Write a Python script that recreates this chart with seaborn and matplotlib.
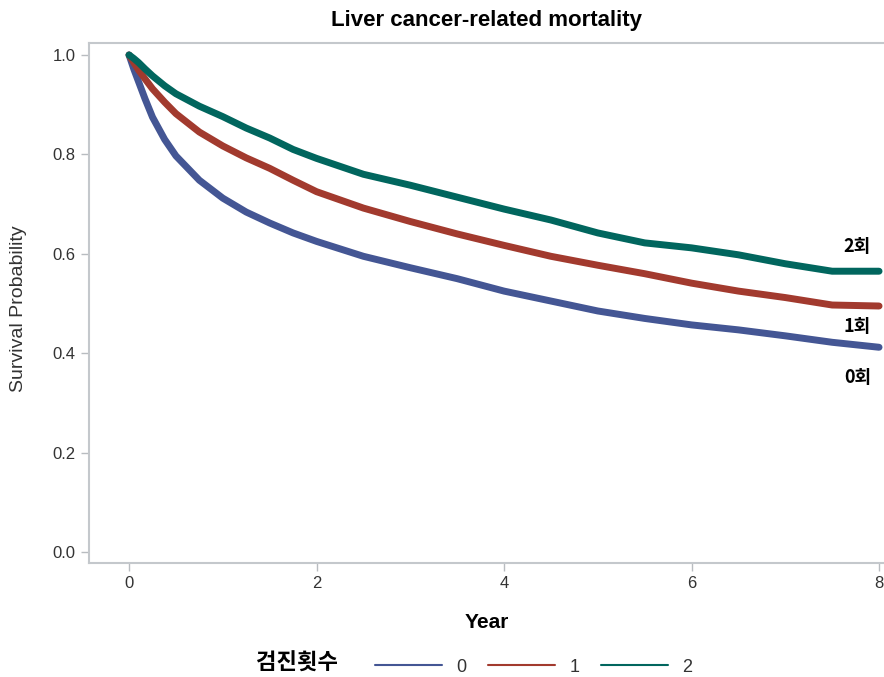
import numpy as np
import pandas as pd
import seaborn as sns
import matplotlib.pyplot as plt
from matplotlib.lines import Line2D

# Kaplan-Meier curves (approximate)
years = [0, 0.05, 0.1, 0.17, 0.25, 0.38, 0.5, 0.75, 1, 1.25, 1.5, 1.75, 2,
         2.5, 3, 3.5, 4, 4.5, 5, 5.5, 6, 6.5, 7, 7.5, 8]
surv_0 = [1.0, 0.972, 0.947, 0.912, 0.875, 0.83, 0.797, 0.748, 0.712, 0.684, 0.662, 0.642, 0.625,
          0.595, 0.572, 0.55, 0.525, 0.505, 0.485, 0.47, 0.457, 0.447, 0.435, 0.422, 0.412]
surv_1 = [1.0, 0.985, 0.97, 0.952, 0.932, 0.905, 0.882, 0.845, 0.817, 0.793, 0.772, 0.748, 0.725,
          0.692, 0.665, 0.64, 0.617, 0.595, 0.577, 0.56, 0.541, 0.525, 0.512, 0.497, 0.495]
surv_2 = [1.0, 0.993, 0.985, 0.972, 0.958, 0.938, 0.922, 0.897, 0.876, 0.853, 0.833, 0.81, 0.792,
          0.76, 0.738, 0.714, 0.69, 0.668, 0.642, 0.622, 0.612, 0.598, 0.58, 0.565, 0.565]
groups = ["0", "1", "2"]
end_labels = ["0회", "1회", "2회"]
label_y = [0.352, 0.453, 0.614]

colors = {"0": "#445694", "1": "#A23A2E", "2": "#01665E"}

df = pd.concat([
    pd.DataFrame({"Year": years, "Survival": s, "group": g})
    for g, s in zip(groups, [surv_0, surv_1, surv_2])
])

sns.set_style("white")
plt.rcParams["font.family"] = ["Liberation Sans", "Noto Sans CJK KR", "DejaVu Sans"]

fig = plt.figure(figsize=(8.84, 6.77), dpi=100)
ax = fig.add_axes([0.1007, 0.1684, 0.899, 0.768])

sns.lineplot(data=df, x="Year", y="Survival", hue="group", palette=colors,
             linewidth=5, legend=False, ax=ax)

for lab, y in zip(end_labels, label_y):
    ax.text(7.77, y, lab, ha="center", va="center", fontsize=13,
            fontweight="bold", color="black", family=["Noto Sans CJK KR"])

ax.set_xlim(-0.427, 8.05)
ax.set_ylim(-0.022, 1.024)
ax.set_xticks([0, 2, 4, 6, 8])
ax.set_yticks([0.0, 0.2, 0.4, 0.6, 0.8, 1.0])
ax.set_yticklabels([f"{v:.1f}" for v in [0.0, 0.2, 0.4, 0.6, 0.8, 1.0]])
ax.tick_params(axis="both", length=6, width=1, color="#b8bcc0",
               labelsize=12, labelcolor="#333333", direction="out")
ax.tick_params(axis="both", bottom=True, left=True)
for side in ["left", "top", "bottom"]:
    ax.spines[side].set_color("#c4c8cc")
    ax.spines[side].set_linewidth(1.5)
ax.spines["right"].set_visible(False)

ax.set_xlabel("Year", fontsize=15, fontweight="bold", labelpad=16, color="black")
ax.set_ylabel("Survival Probability", fontsize=14, color="#333333", va="center")
ax.yaxis.set_label_coords(-0.089, 0.49)
ax.set_title("Liver cancer-related mortality", fontsize=16, fontweight="bold",
             pad=12, color="black")

fig.text(0.336, 1 - 663 / 677, "검진횟수", fontsize=16, fontweight="bold", ha="center",
         va="center", family=["Noto Sans CJK KR"], color="black")
handles = [Line2D([0], [0], color=colors[g], lw=1.5) for g in groups]
fig.legend(handles, groups, loc="center left", bbox_to_anchor=(0.418, 1 - 667 / 677),
           ncol=3, frameon=False, fontsize=13, handlelength=3.7,
           columnspacing=1.2, handletextpad=0.8, labelcolor="#333333",
           borderaxespad=0, borderpad=0.3)

fig.savefig("out.png", dpi=100)
